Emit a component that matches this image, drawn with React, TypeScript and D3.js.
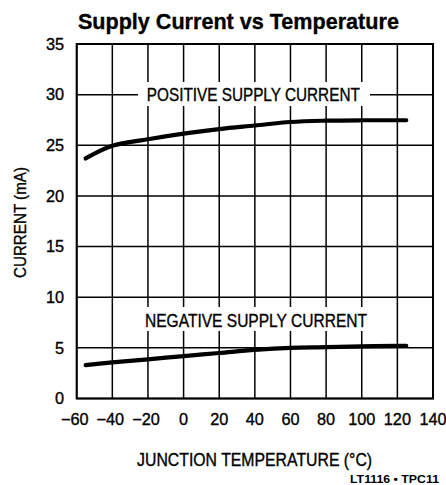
import React from "react";
import * as d3 from "d3";

const temps = [-55, -40, -20, 0, 20, 40, 60, 80, 100, 120, 125];
const positiveCurrent = [23.7, 24.95, 25.6, 26.15, 26.6, 26.95, 27.3, 27.43, 27.47, 27.47, 27.47];
const negativeCurrent = [3.3, 3.57, 3.87, 4.19, 4.49, 4.8, 5.0, 5.07, 5.15, 5.2, 5.2];
const xTicks = [-60, -40, -20, 0, 20, 40, 60, 80, 100, 120, 140];
const yTicks = [0, 5, 10, 15, 20, 25, 30, 35];

const FONT = "'Liberation Sans', Arial, Helvetica, sans-serif";

export default function App() {
  const W = 446, H = 485;
  const x = d3.scaleLinear().domain([-60, 140]).range([76.7, 433]);
  const y = d3.scaleLinear().domain([0, 35]).range([398.5, 44]);
  const line = d3
    .line<number>()
    .x((_, i) => x(temps[i]))
    .y((d) => y(d))
    .curve(d3.curveCatmullRom.alpha(0.5));

  const fmt = (v: number) => (v < 0 ? "\u2212" + Math.abs(v) : String(v));
  const thick = { stroke: "#000", strokeWidth: 0.35 };

  return (
    <svg
      width={W}
      height={H}
      style={{ position: "absolute", left: 0, top: 0, background: "#fff" }}
      fontFamily={FONT}
    >
      <rect x={0} y={0} width={W} height={H} fill="#fff" />
      {/* grid */}
      {xTicks.map((t) => (
        <line key={"vx" + t} x1={x(t)} x2={x(t)} y1={y(35)} y2={y(0)} stroke="#000" strokeWidth={1.5} />
      ))}
      {yTicks.map((t) => (
        <line key={"hy" + t} x1={x(-60)} x2={x(140)} y1={y(t)} y2={y(t)} stroke="#000" strokeWidth={1.5} />
      ))}
      {/* label background boxes */}
      <rect x={138} y={82} width={232} height={24} fill="#fff" />
      <rect x={140} y={307} width={232} height={24} fill="#fff" />
      {/* frame */}
      <rect x={x(-60)} y={y(35)} width={x(140) - x(-60)} height={y(0) - y(35)} fill="none" stroke="#000" strokeWidth={2} />
      {/* curves */}
      <path d={line(positiveCurrent) || ""} fill="none" stroke="#000" strokeWidth={4.2} strokeLinecap="round" />
      <path d={line(negativeCurrent) || ""} fill="none" stroke="#000" strokeWidth={4.2} strokeLinecap="round" />
      {/* series labels */}
      <text x={253.3} y={100.7} textAnchor="middle" fontSize={18} textLength={213} lengthAdjust="spacingAndGlyphs" {...thick}>
        POSITIVE SUPPLY CURRENT
      </text>
      <text x={256} y={326.7} textAnchor="middle" fontSize={18} textLength={222} lengthAdjust="spacingAndGlyphs" {...thick}>
        NEGATIVE SUPPLY CURRENT
      </text>
      {/* y ticks */}
      {yTicks.map((t) => (
        <text key={"yt" + t} x={64} y={y(t) + 5.8} textAnchor="end" fontSize={16.3} {...thick}>
          {t}
        </text>
      ))}
      {/* x ticks */}
      {xTicks.map((t) => (
        <text key={"xt" + t} x={x(t) + (t < 0 ? -2 : 0)} y={425} textAnchor="middle" fontSize={16.3} {...thick}>
          {fmt(t)}
        </text>
      ))}
      {/* title */}
      <text x={238.4} y={29.3} textAnchor="middle" fontSize={22.5} fontWeight="bold" textLength={321} lengthAdjust="spacingAndGlyphs" {...thick}>
        Supply Current vs Temperature
      </text>
      {/* axis titles */}
      <text
        transform="translate(26,222.5) rotate(-90)"
        textAnchor="middle"
        fontSize={16.5}
        textLength={111}
        lengthAdjust="spacingAndGlyphs"
        {...thick}
      >
        CURRENT (mA)
      </text>
      <text x={254.6} y={466} textAnchor="middle" fontSize={18} textLength={235} lengthAdjust="spacingAndGlyphs" {...thick}>
        JUNCTION TEMPERATURE (°C)
      </text>
      <text
        x={394.5}
        y={483}
        textAnchor="middle"
        fontSize={10}
        fontWeight="bold"
        textLength={89}
        lengthAdjust="spacingAndGlyphs"
      >
        LT1116 • TPC11
      </text>
    </svg>
  );
}
